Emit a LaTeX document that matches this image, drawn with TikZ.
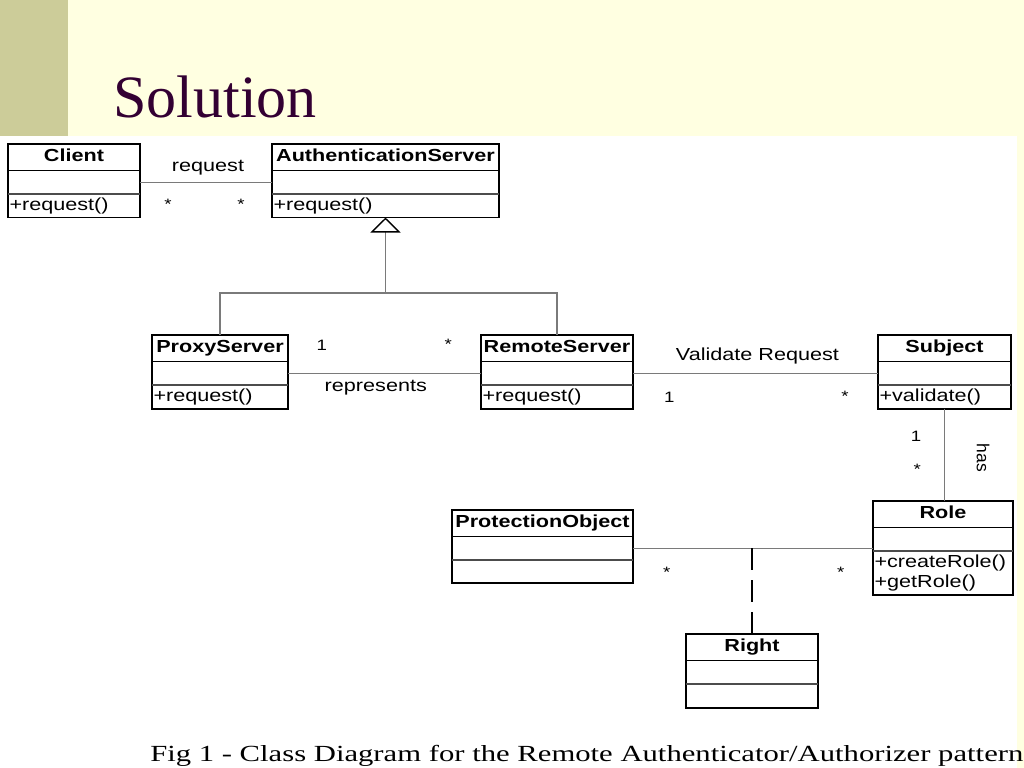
\documentclass[tikz,border=0pt]{standalone}
\usepackage{fontspec}
\setmainfont{Liberation Serif}
\newfontfamily\umlfont[FakeStretch=1.24]{Liberation Sans}
\newfontfamily\hasfont{Liberation Sans}
\newfontfamily\capfont[FakeStretch=1.33]{Liberation Serif}
\usepackage{tikz}
\usetikzlibrary{arrows.meta}
\definecolor{slidecream}{HTML}{FFFFE1}
\definecolor{slideolive}{HTML}{CCCC99}
\definecolor{titleplum}{HTML}{330033}
\definecolor{linegray}{HTML}{7A7A7A}

% class box: id, top-left x, top-left y, width, name, operations, operations height (px)
\newcommand{\umlclass}[7]{%
  \pgfmathsetlengthmacro{\clswidth}{#4*0.025cm}%
  \pgfmathsetlengthmacro{\opswidth}{(#4-3)*0.025cm}%
  \pgfmathsetlengthmacro{\opsheight}{#7*0.025cm}%
  \node[clsname, minimum width=\clswidth, anchor=north west] (#1) at (#2,#3) {#5};
  \node[clsattr, minimum width=\clswidth, anchor=north] (#1-a) at (#1.south) {};
  \node[clsops, minimum width=\clswidth, minimum height=\opsheight,
        text width=\opswidth, anchor=north] (#1-m) at (#1-a.south) {#6};
  \draw[clsframe] (#1.north west) rectangle (#1-m.south east);
  \draw[clsframe] (#1.south west) -- (#1.south east);
  \draw[clssplit] (#1-a.south west) -- (#1-a.south east);
}

\begin{document}
\begin{tikzpicture}[
      x=0.025cm, y=-0.025cm,
      clsname/.style={inner sep=0pt, outer sep=0pt, minimum height=0.6625cm,
                      text height=0.32cm, text depth=0.09cm,
                      font=\umlfont\bfseries\fontsize{12.4}{14}\selectfont},
      clsattr/.style={inner sep=0pt, outer sep=0pt, minimum height=0.5875cm},
      clsops/.style={inner xsep=0.0375cm, inner ysep=0pt, outer sep=0pt, align=left,
                     font=\umlfont\fontsize{12.4}{14}\selectfont},
      clsframe/.style={line width=1.4pt},
      clssplit/.style={line width=0.9pt, black!70},
      assoc/.style={draw=linegray, line width=0.8pt},
      gen/.style={assoc, -{Triangle[open, length=0.375cm, width=0.75cm,
                  line width=1pt, color=black]}},
      assocclass/.style={line width=2.1pt, dash pattern=on 0.55cm off 0.25cm},
      rel/.style={font=\umlfont\fontsize{12.4}{14}\selectfont, inner sep=0pt},
      mult/.style={font=\umlfont\fontsize{10.7}{12}\selectfont, inner sep=0pt}
    ]
    % slide background
    \useasboundingbox (0,0) rectangle (1024,768);
    \fill[slidecream] (0,0) rectangle (1024,768);
    \fill[white] (0,136) rectangle (1017,768);
    \fill[slideolive] (0,0) rectangle (68,136);

    \node[anchor=base west, inner sep=0pt, text=titleplum,
          font=\fontsize{42.7}{50}\selectfont] (title) at (113,117.5) {Solution};

    % classes
    \umlclass{client}{8}{144}{132}{Client}{+request()}{23.5}
    \umlclass{auth}{272}{144}{227}{AuthenticationServer}{+request()}{23.5}
    \umlclass{proxy}{152}{335}{136}{ProxyServer}{+request()}{23.5}
    \umlclass{remote}{481}{335}{152}{RemoteServer}{+request()}{23.5}
    \umlclass{subject}{878}{335}{133}{Subject}{+validate()}{23.5}
    \umlclass{role}{873}{501}{140}{Role}{+createRole()\\+getRole()}{44}
    \umlclass{protobj}{452}{510}{181}{ProtectionObject}{}{22.5}
    \umlclass{right}{686}{634}{132}{Right}{}{24}

    % client -- authentication server
    \draw[assoc] (client-a.east) -- (auth-a.west);
    \node[rel, anchor=base] (lblrequest) at (208,171.5) {request};
    \node[mult] (mclient) at (168,204) {*};
    \node[mult] (mauth) at (241,204) {*};

    % generalisation
    \coordinate (jn) at (385.5,293);
    \draw[assoc] (proxy.north) |- (jn) -| (remote.north);
    \draw[gen] (jn) -- (auth-m.south);

    % proxy -- remote
    \draw[assoc] (proxy-a.east) -- (remote-a.west);
    \node[rel, anchor=base] (lblrepresents) at (375.8,391) {represents};
    \node[mult] (mproxy) at (321.7,345.3) {1};
    \node[mult] (mremote) at (448.3,344.7) {*};

    % remote -- subject
    \draw[assoc] (remote-a.east) -- (subject-a.west);
    \node[rel, anchor=base] (lblvalidate) at (757.5,360.7) {Validate Request};
    \node[mult] (mremote2) at (669.3,397.7) {1};
    \node[mult] (msubject) at (845,396.3) {*};

    % subject -- role
    \draw[assoc] (subject-m.south) -- (subject-m.south |- role.north);
    \node[font=\hasfont\fontsize{12.4}{14}\selectfont, inner sep=0pt,
          rotate=-90] (lblhas) at (983,458) {has};
    \node[mult] (msubject2) at (916,436.7) {1};
    \node[mult] (mrole) at (917.3,469.7) {*};

    % protection object -- role, with association class
    \draw[assoc] (protobj-a.east) -- (protobj-a.east -| role.west);
    \node[mult] (mprotobj) at (666.7,572.3) {*};
    \node[mult] (mrole2) at (840.7,572.3) {*};
    \draw[assocclass] (right.north |- protobj-a.east) -- (right.north);

    \node[anchor=base west, inner sep=0pt, font=\capfont\fontsize{16.4}{20}\selectfont]
      (caption) at (150,761) {Fig 1 - Class Diagram for the Remote Authenticator/Authorizer pattern};
  \end{tikzpicture}
\end{document}
